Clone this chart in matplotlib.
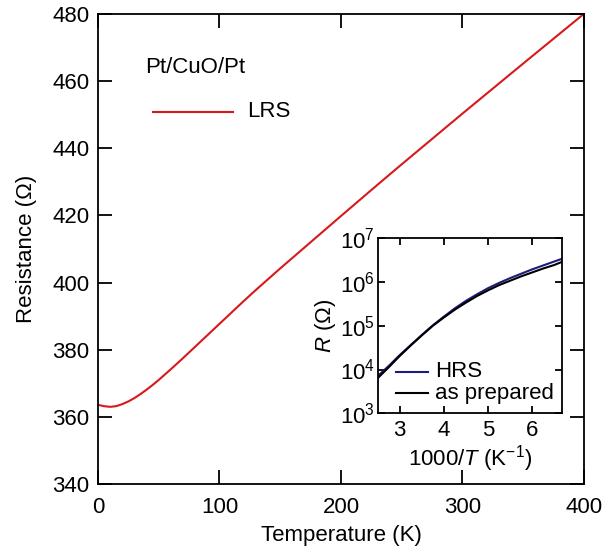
import numpy as np
import matplotlib.pyplot as plt

plt.rcParams['font.family'] = ['Liberation Sans', 'DejaVu Sans']
plt.rcParams['mathtext.fontset'] = 'custom'
plt.rcParams['mathtext.rm'] = 'Liberation Sans'
plt.rcParams['mathtext.it'] = 'Liberation Sans:italic'
plt.rcParams['mathtext.bf'] = 'Liberation Sans:bold'

# LRS : résistance vs température
temp = [0, 5, 10, 15, 20, 25, 30, 35, 40, 45, 50, 60, 70, 80, 90, 100,
        110, 120, 130, 140, 150, 175, 200, 232, 250, 300, 350, 400]
r_lrs = [363.6, 363.2, 363.0, 363.2, 363.8, 364.6, 365.6, 366.8, 368.1,
         369.5, 371.0, 374.2, 377.5, 380.9, 384.3, 387.7, 391.1, 394.5,
         397.8, 401.0, 404.2, 412.0, 419.8, 429.7, 435.2, 450.3, 465.2,
         480.0]

# encart : log10(R) vs 1000/T
inv_t = [2.5, 2.75, 3.0, 3.25, 3.5, 3.75, 4.0, 4.25, 4.5, 4.75, 5.0, 5.25,
         5.5, 5.75, 6.0, 6.25, 6.5, 6.67]
log_r_hrs = [3.85, 4.08, 4.33, 4.56, 4.79, 5.01, 5.21, 5.40, 5.57, 5.72,
             5.86, 5.98, 6.09, 6.19, 6.29, 6.38, 6.47, 6.53]
log_r_prep = [3.80, 4.05, 4.31, 4.55, 4.78, 5.00, 5.19, 5.37, 5.53, 5.68,
              5.81, 5.93, 6.03, 6.13, 6.22, 6.31, 6.39, 6.46]

red = '#d7191c'
navy = '#1c1c80'
fs = 16

fig = plt.figure(figsize=(6.16, 5.52), dpi=100)
ax = fig.add_axes([0.159, 0.123, 0.789, 0.852])
ax.plot(temp, r_lrs, color=red, lw=1.5)
ax.set_xlim(0, 400)
ax.set_ylim(340, 480)
ax.set_xticks([0, 100, 200, 300, 400])
ax.set_yticks(np.arange(340, 481, 20))
ax.tick_params(direction='in', length=10, width=1.3, labelsize=fs,
               top=True, right=True)
ax.tick_params(axis='x', pad=9)
ax.tick_params(axis='y', pad=6)
for s in ax.spines.values():
    s.set_linewidth(1.3)
ax.set_xlabel('Temperature (K)', fontsize=fs, labelpad=5)
ax.set_ylabel('Resistance (\u03a9)', fontsize=fs)
ax.yaxis.set_label_coords(-0.126, 0.5)

ax.text(38.7, 463.9, 'Pt/CuO/Pt', fontsize=fs, va='center', ha='left')
ax.plot([45.3, 111], [450.8, 450.8], color=red, lw=1.5)
ax.text(123, 450.8, 'LRS', fontsize=fs, va='center', ha='left')

# encart
ins = fig.add_axes([0.613, 0.2513, 0.299, 0.317])
ins.semilogy(inv_t, 10 ** np.array(log_r_hrs), color=navy, lw=1.5)
ins.semilogy(inv_t, 10 ** np.array(log_r_prep), color='black', lw=1.5)
ins.set_xlim(2.5, 6.67)
ins.set_ylim(1e3, 1e7)
ins.set_xticks([3, 4, 5, 6])
ins.set_yticks([1e3, 1e4, 1e5, 1e6, 1e7])
ins.minorticks_off()
ins.tick_params(direction='in', length=5, width=1.3, labelsize=fs,
                top=True, right=True)
ins.tick_params(axis='x', pad=5)
ins.tick_params(axis='y', pad=2)
for s in ins.spines.values():
    s.set_linewidth(1.3)
ins.set_xlabel('1000/$T$ (K$^{-1}$)', fontsize=fs, labelpad=1)
ins.set_ylabel('$R$ (\u03a9)', fontsize=fs, labelpad=1)

ins.plot([2.92, 3.64], [10**3.95, 10**3.95], color=navy, lw=1.5)
ins.text(3.8, 10**3.95, 'HRS', fontsize=fs, va='center', ha='left')
ins.plot([2.92, 3.64], [10**3.46, 10**3.46], color='black', lw=1.5)
ins.text(3.8, 10**3.46, 'as prepared', fontsize=fs, va='center', ha='left')

fig.savefig('out.png', dpi=100)
